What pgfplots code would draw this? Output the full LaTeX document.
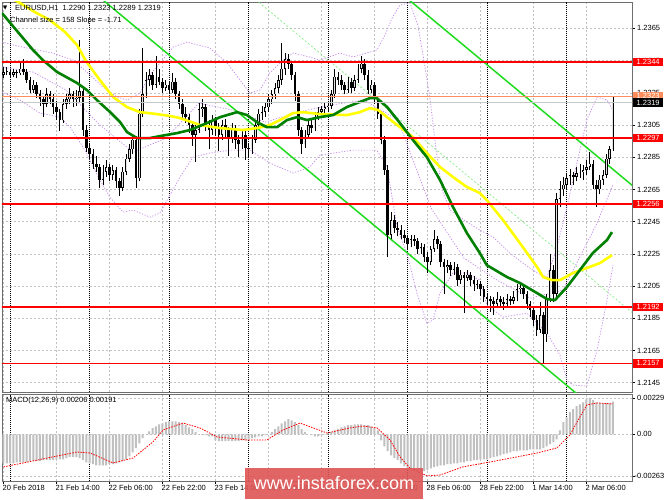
\documentclass[border=0pt]{standalone}
\usepackage{pgfplots}
\pgfplotsset{compat=1.18}
\usepackage{pgfplotstable}
\usepackage{fontspec}
\setmainfont{Liberation Sans}
\newfontfamily\symfont{DejaVu Sans}
\definecolor{mtgrid}{RGB}{192,192,192}
\definecolor{mtframe}{RGB}{110,110,110}
\definecolor{mtdkgreen}{RGB}{0,128,0}
\definecolor{mtyellow}{RGB}{255,255,0}
\definecolor{mtlime}{RGB}{30,220,30}
\definecolor{mtlime2}{RGB}{120,235,120}
\definecolor{mtviolet}{RGB}{195,135,235}
\definecolor{mtred}{RGB}{255,0,0}
\definecolor{mtorange}{RGB}{255,140,90}
\definecolor{mtbid}{RGB}{200,200,200}
\definecolor{mthist}{RGB}{192,192,192}
\definecolor{mtbull}{RGB}{225,225,225}
\definecolor{wm}{RGB}{222,85,85}

\pgfplotstableread{
i o h l c
0 1.2336 1.2341 1.2334 1.2338
1 1.2338 1.2341 1.2336 1.2338
2 1.2338 1.2340 1.2334 1.2336
3 1.2336 1.2340 1.2335 1.2338
4 1.2338 1.2339 1.2334 1.2337
5 1.2337 1.2345 1.2336 1.2340
6 1.2340 1.2346 1.2336 1.2338
7 1.2338 1.2340 1.2331 1.2333
8 1.2333 1.2335 1.2325 1.2327
9 1.2327 1.2333 1.2325 1.2330
10 1.2330 1.2332 1.2322 1.2324
11 1.2324 1.2327 1.2317 1.2321
12 1.2321 1.2323 1.2310 1.2318
13 1.2318 1.2328 1.2316 1.2324
14 1.2324 1.2326 1.2318 1.2321
15 1.2321 1.2324 1.2312 1.2316
16 1.2316 1.2320 1.2308 1.2313
17 1.2313 1.2315 1.2301 1.2308
18 1.2308 1.2321 1.2306 1.2318
19 1.2318 1.2324 1.2315 1.2321
20 1.2321 1.2328 1.2318 1.2324
21 1.2324 1.2326 1.2316 1.2321
22 1.2321 1.2327 1.2317 1.2322
23 1.2322 1.2358 1.2319 1.2326
24 1.2326 1.2328 1.2298 1.2302
25 1.2302 1.2305 1.2288 1.2291
26 1.2291 1.2294 1.2284 1.2287
27 1.2287 1.2290 1.2278 1.2281
28 1.2281 1.2286 1.2276 1.2279
29 1.2279 1.2281 1.2266 1.2271
30 1.2271 1.2280 1.2268 1.2276
31 1.2276 1.2283 1.2273 1.2279
32 1.2279 1.2281 1.2270 1.2274
33 1.2274 1.2280 1.2271 1.2277
34 1.2277 1.2279 1.2266 1.2270
35 1.2270 1.2272 1.2261 1.2266
36 1.2266 1.2279 1.2264 1.2276
37 1.2276 1.2287 1.2274 1.2284
38 1.2284 1.2293 1.2282 1.2290
39 1.2290 1.2299 1.2287 1.2296
40 1.2296 1.2298 1.2266 1.2272
41 1.2272 1.2315 1.2270 1.2312
42 1.2312 1.2353 1.2310 1.2324
43 1.2324 1.2338 1.2322 1.2333
44 1.2333 1.2340 1.2329 1.2336
45 1.2336 1.2338 1.2327 1.2330
46 1.2330 1.2348 1.2328 1.2335
47 1.2335 1.2340 1.2330 1.2332
48 1.2332 1.2334 1.2325 1.2328
49 1.2328 1.2333 1.2326 1.2330
50 1.2330 1.2332 1.2324 1.2327
51 1.2327 1.2337 1.2325 1.2332
52 1.2332 1.2334 1.2321 1.2324
53 1.2324 1.2326 1.2315 1.2318
54 1.2318 1.2321 1.2309 1.2312
55 1.2312 1.2316 1.2306 1.2310
56 1.2310 1.2312 1.2300 1.2305
57 1.2305 1.2307 1.2292 1.2299
58 1.2299 1.2306 1.2282 1.2302
59 1.2302 1.2319 1.2300 1.2315
60 1.2315 1.2321 1.2310 1.2316
61 1.2316 1.2318 1.2301 1.2305
62 1.2305 1.2308 1.2290 1.2302
63 1.2302 1.2311 1.2299 1.2308
64 1.2308 1.2310 1.2298 1.2303
65 1.2303 1.2306 1.2289 1.2299
66 1.2299 1.2308 1.2296 1.2305
67 1.2305 1.2309 1.2297 1.2302
68 1.2302 1.2304 1.2286 1.2297
69 1.2297 1.2306 1.2294 1.2303
70 1.2303 1.2305 1.2290 1.2296
71 1.2296 1.2299 1.2285 1.2293
72 1.2293 1.2302 1.2290 1.2299
73 1.2299 1.2301 1.2283 1.2291
74 1.2291 1.2294 1.2285 1.2290
75 1.2290 1.2299 1.2287 1.2296
76 1.2296 1.2308 1.2294 1.2305
77 1.2305 1.2315 1.2303 1.2312
78 1.2312 1.2317 1.2308 1.2313
79 1.2313 1.2319 1.2310 1.2316
80 1.2316 1.2324 1.2313 1.2321
81 1.2321 1.2327 1.2318 1.2324
82 1.2324 1.2331 1.2321 1.2328
83 1.2328 1.2336 1.2325 1.2333
84 1.2333 1.2356 1.2330 1.2340
85 1.2340 1.2350 1.2336 1.2346
86 1.2346 1.2349 1.2340 1.2343
87 1.2343 1.2345 1.2333 1.2336
88 1.2336 1.2338 1.2320 1.2324
89 1.2324 1.2326 1.2298 1.2302
90 1.2302 1.2304 1.2287 1.2293
91 1.2293 1.2302 1.2291 1.2299
92 1.2299 1.2308 1.2297 1.2305
93 1.2305 1.2309 1.2300 1.2303
94 1.2303 1.2313 1.2301 1.2310
95 1.2310 1.2316 1.2308 1.2313
96 1.2313 1.2317 1.2311 1.2315
97 1.2315 1.2319 1.2312 1.2316
98 1.2316 1.2320 1.2313 1.2317
99 1.2317 1.2327 1.2315 1.2324
100 1.2324 1.2340 1.2322 1.2335
101 1.2335 1.2338 1.2330 1.2333
102 1.2333 1.2336 1.2327 1.2330
103 1.2330 1.2332 1.2324 1.2327
104 1.2327 1.2335 1.2325 1.2332
105 1.2332 1.2334 1.2325 1.2328
106 1.2328 1.2336 1.2326 1.2333
107 1.2333 1.2343 1.2331 1.2340
108 1.2340 1.2348 1.2337 1.2343
109 1.2343 1.2346 1.2333 1.2336
110 1.2336 1.2339 1.2324 1.2327
111 1.2327 1.2333 1.2325 1.2330
112 1.2330 1.2332 1.2318 1.2321
113 1.2321 1.2323 1.2309 1.2312
114 1.2312 1.2314 1.2293 1.2296
115 1.2296 1.2298 1.2274 1.2277
116 1.2277 1.2280 1.2223 1.2237
117 1.2237 1.2251 1.2234 1.2246
118 1.2246 1.2249 1.2238 1.2241
119 1.2241 1.2245 1.2236 1.2240
120 1.2240 1.2243 1.2234 1.2237
121 1.2237 1.2240 1.2232 1.2235
122 1.2235 1.2237 1.2228 1.2231
123 1.2231 1.2237 1.2229 1.2234
124 1.2234 1.2237 1.2230 1.2233
125 1.2233 1.2235 1.2225 1.2228
126 1.2228 1.2232 1.2225 1.2229
127 1.2229 1.2231 1.2220 1.2223
128 1.2223 1.2226 1.2213 1.2220
129 1.2220 1.2230 1.2218 1.2228
130 1.2228 1.2240 1.2226 1.2234
131 1.2234 1.2236 1.2228 1.2231
132 1.2231 1.2233 1.2217 1.2220
133 1.2220 1.2222 1.2200 1.2217
134 1.2217 1.2221 1.2213 1.2218
135 1.2218 1.2220 1.2211 1.2215
136 1.2215 1.2220 1.2212 1.2217
137 1.2217 1.2219 1.2205 1.2209
138 1.2209 1.2215 1.2206 1.2212
139 1.2212 1.2214 1.2188 1.2210
140 1.2210 1.2215 1.2208 1.2212
141 1.2212 1.2214 1.2205 1.2209
142 1.2209 1.2211 1.2202 1.2206
143 1.2206 1.2209 1.2203 1.2206
144 1.2206 1.2208 1.2199 1.2203
145 1.2203 1.2205 1.2195 1.2198
146 1.2198 1.2201 1.2193 1.2197
147 1.2197 1.2199 1.2189 1.2196
148 1.2196 1.2198 1.2187 1.2194
149 1.2194 1.2201 1.2192 1.2197
150 1.2197 1.2199 1.2192 1.2195
151 1.2195 1.2198 1.2190 1.2194
152 1.2194 1.2200 1.2192 1.2197
153 1.2197 1.2199 1.2193 1.2196
154 1.2196 1.2202 1.2194 1.2198
155 1.2198 1.2206 1.2196 1.2203
156 1.2203 1.2207 1.2200 1.2204
157 1.2204 1.2205 1.2197 1.2200
158 1.2200 1.2202 1.2191 1.2194
159 1.2194 1.2196 1.2186 1.2190
160 1.2190 1.2192 1.2180 1.2184
161 1.2184 1.2187 1.2174 1.2178
162 1.2178 1.2195 1.2176 1.2187
163 1.2187 1.2189 1.2157 1.2175
164 1.2175 1.2200 1.2170 1.2197
165 1.2197 1.2225 1.2195 1.2215
166 1.2215 1.2218 1.2195 1.2200
167 1.2200 1.2263 1.2198 1.2259
168 1.2259 1.2270 1.2254 1.2265
169 1.2265 1.2273 1.2261 1.2268
170 1.2268 1.2275 1.2265 1.2272
171 1.2272 1.2278 1.2268 1.2274
172 1.2274 1.2276 1.2268 1.2273
173 1.2273 1.2279 1.2270 1.2275
174 1.2275 1.2281 1.2272 1.2276
175 1.2276 1.2280 1.2271 1.2277
176 1.2277 1.2283 1.2274 1.2279
177 1.2279 1.2288 1.2277 1.2281
178 1.2281 1.2283 1.2265 1.2268
179 1.2268 1.2271 1.2254 1.2265
180 1.2265 1.2274 1.2262 1.2271
181 1.2271 1.2277 1.2268 1.2274
182 1.2274 1.2287 1.2272 1.2284
183 1.2284 1.2292 1.2281 1.2290
184 1.2290 1.2323 1.2289 1.2319
}\candles

\pgfplotstableread{
i m
0 -0.00183
1 -0.00183
2 -0.00183
3 -0.00183
4 -0.00177
5 -0.00177
6 -0.00177
7 -0.00177
8 -0.00170
9 -0.00170
10 -0.00170
11 -0.00170
12 -0.00164
13 -0.00164
14 -0.00164
15 -0.00164
16 -0.00158
17 -0.00158
18 -0.00158
19 -0.00151
20 -0.00145
21 -0.00145
22 -0.00145
23 -0.00151
24 -0.00164
25 -0.00177
26 -0.00183
27 -0.00189
28 -0.00196
29 -0.00196
30 -0.00196
31 -0.00196
32 -0.00189
33 -0.00189
34 -0.00183
35 -0.00177
36 -0.00170
37 -0.00158
38 -0.00139
39 -0.00114
40 -0.00088
41 -0.00057
42 -0.00025
43 0.00000
44 0.00019
45 0.00038
46 0.00050
47 0.00063
48 0.00069
49 0.00076
50 0.00082
51 0.00082
52 0.00082
53 0.00076
54 0.00069
55 0.00057
56 0.00044
57 0.00032
58 0.00013
59 0.00000
60 -0.00006
61 -0.00006
62 -0.00013
63 -0.00013
64 -0.00038
65 -0.00044
66 -0.00044
67 -0.00044
68 -0.00044
69 -0.00044
70 -0.00044
71 -0.00044
72 -0.00038
73 -0.00038
74 -0.00032
75 -0.00025
76 -0.00019
77 -0.00013
78 -0.00013
79 -0.00006
80 0.00000
81 0.00013
82 0.00032
83 0.00050
84 0.00069
85 0.00082
86 0.00095
87 0.00088
88 0.00076
89 0.00057
90 0.00032
91 0.00013
92 0.00000
93 -0.00006
94 -0.00013
95 -0.00013
96 -0.00006
97 0.00000
98 0.00006
99 0.00013
100 0.00025
101 0.00032
102 0.00044
103 0.00050
104 0.00057
105 0.00057
106 0.00063
107 0.00063
108 0.00063
109 0.00057
110 0.00057
111 0.00050
112 0.00038
113 0.00025
114 -0.00038
115 -0.00076
116 -0.00107
117 -0.00133
118 -0.00151
119 -0.00164
120 -0.00183
121 -0.00202
122 -0.00221
123 -0.00227
124 -0.00233
125 -0.00233
126 -0.00233
127 -0.00233
128 -0.00227
129 -0.00215
130 -0.00208
131 -0.00202
132 -0.00196
133 -0.00196
134 -0.00189
135 -0.00189
136 -0.00183
137 -0.00183
138 -0.00177
139 -0.00177
140 -0.00170
141 -0.00170
142 -0.00164
143 -0.00164
144 -0.00158
145 -0.00158
146 -0.00158
147 -0.00151
148 -0.00145
149 -0.00139
150 -0.00133
151 -0.00126
152 -0.00120
153 -0.00114
154 -0.00107
155 -0.00107
156 -0.00101
157 -0.00101
158 -0.00101
159 -0.00095
160 -0.00095
161 -0.00095
162 -0.00095
163 -0.00088
164 -0.00076
165 -0.00063
166 -0.00050
167 -0.00032
168 0.00025
169 0.00076
170 0.00107
171 0.00139
172 0.00158
173 0.00177
174 0.00189
175 0.00202
176 0.00221
177 0.00229
178 0.00215
179 0.00202
180 0.00196
181 0.00196
182 0.00196
183 0.00196
184 0.00206
}\macd

\begin{document}
\begin{tikzpicture}[x=1pt,y=1pt,font=\fontsize{7.5}{9}\selectfont]
\useasboundingbox (0,0) rectangle (665,499);
\fill[white] (0,0) rectangle (665,499);

% ---------------- main price panel ----------------
\begin{axis}[
  at={(2pt,106.5pt)}, anchor=south west, scale only axis,
  width=630pt, height=390.5pt,
  xmin=-0.453, xmax=189.74, ymin=1.21389, ymax=1.23814,
  clip mode=individual,
  scaled ticks=false,
  axis line style={draw=mtframe, line width=0.8pt},
  xtick={0,16,32,48,64,80,96,112,128,144,160,176},
  xticklabels={,,,,,,,,,,,}, xtick style={draw=none},
  ytick={1.2145,1.2165,1.2185,1.2205,1.2225,1.2245,1.2265,1.2285,1.2305,1.2325,1.2345,1.2365},
  yticklabels={1.2145,1.2165,1.2185,1.2205,1.2225,1.2245,1.2265,1.2285,1.2305,1.2325,1.2345,1.2365},
  ytick pos=right, yticklabel pos=right,
  tick align=outside, major tick length=3pt,
  ytick style={draw=black, line width=0.5pt},
  tick label style={font=\fontsize{7.5}{9}\selectfont},
  yticklabel style={anchor=west, inner sep=0pt, xshift=2pt},
  grid=major,
  major grid style={mtgrid, dash pattern=on 2pt off 2pt, line width=0.5pt},
  extra x ticks={2,26,50,74,98,122,146,170},
  extra x tick labels={,,,,,,,},
  extra x tick style={grid=major, major grid style={black, dash pattern=on 1pt off 1pt, line width=0.6pt}, tick style={draw=none}},
]
% Bollinger bands (violet dotted)
\addplot[mtviolet, line width=0.7pt, dash pattern=on 1.2pt off 1.6pt] coordinates {
(-0.5,1.23565) (2.9,1.23547) (10.1,1.23516) (14.9,1.23497) (21.0,1.23453) (25.2,1.23379) (30.0,1.23286) (34.3,1.23224) (37.3,1.23205) (41.2,1.23248) (44.2,1.23360) (47.2,1.23435) (51.2,1.23534) (55.4,1.23565) (62.3,1.23528) (67.5,1.23435) (71.4,1.23329) (74.4,1.23248) (77.4,1.23267) (80.4,1.23373) (83.5,1.23435) (87.4,1.23497) (92.5,1.23472) (95.5,1.23453) (101.6,1.23497) (105.5,1.23472) (112.7,1.23516) (115.2,1.23609) (117.3,1.23714) (119.7,1.23795) (122.7,1.23807) (125.1,1.23671) (126.9,1.23453) (128.8,1.23205) (130.6,1.22894) (132.4,1.22646) (134.8,1.22522) (139.9,1.22447) (143.8,1.22398) (147.8,1.22354) (152.9,1.22255) (156.8,1.22193) (161.1,1.22131) (164.1,1.22106) (167.1,1.22292) (170.1,1.22541) (173.1,1.22814) (176.1,1.23081) (179.2,1.23224) (182.2,1.23205) (184.0,1.23143)};
\addplot[mtviolet, line width=0.7pt, dash pattern=on 1.2pt off 1.6pt] coordinates {
(-0.5,1.23410) (8.9,1.23379) (18.9,1.23267) (29.1,1.23050) (39.1,1.22882) (49.1,1.22969) (59.0,1.23186) (69.0,1.23143) (79.0,1.23068) (88.9,1.23130) (98.9,1.23174) (108.8,1.23205) (119.1,1.23081) (129.1,1.22534) (139.0,1.22224) (149.0,1.22087) (159.0,1.21975) (168.9,1.22025) (178.9,1.22429) (184.0,1.22677)};
\addplot[mtviolet, line width=0.7pt, dash pattern=on 1.2pt off 1.6pt] coordinates {
(-0.5,1.23255) (5.0,1.23205) (11.0,1.23124) (17.1,1.23099) (20.1,1.23037) (24.6,1.22894) (29.1,1.22708) (32.1,1.22603) (36.1,1.22509) (39.1,1.22522) (44.2,1.22478) (47.2,1.22503) (53.3,1.22727) (57.2,1.22851) (62.3,1.22876) (68.4,1.22894) (74.4,1.22894) (80.4,1.22814) (87.4,1.22752) (92.5,1.22789) (95.5,1.22863) (105.5,1.22894) (112.7,1.22894) (115.8,1.22789) (118.8,1.22416) (121.8,1.22255) (124.8,1.22007) (127.8,1.21820) (129.7,1.21839) (131.8,1.22007) (135.7,1.22131) (139.9,1.22131) (143.8,1.22087) (145.9,1.21932) (150.8,1.21857) (158.0,1.21882) (164.1,1.21758) (168.0,1.21621) (170.1,1.21466) (171.9,1.21435) (176.1,1.21429) (179.2,1.21653) (182.2,1.21963) (184.0,1.22180)};
% regression channel
\addplot[mtlime2, line width=0.6pt, dash pattern=on 2pt off 2pt] coordinates {(26,1.24685) (190,1.21882)};
\addplot[mtlime, line width=1.5pt] coordinates {(26,1.23895) (190,1.21092)};
\addplot[mtlime, line width=1.5pt] coordinates {(26,1.25475) (190,1.22672)};
% candles: wicks
\addplot[draw=none, mark=none, error bars/.cd, y dir=plus, y explicit, error mark=none,
  error bar style={draw=black, line width=0.7pt, solid}]
  table[x=i, y=l, y error plus expr={\thisrow{h}-\thisrow{l}}] {\candles};
% bodies (black)
\addplot[draw=none, mark=none, error bars/.cd, y dir=plus, y explicit, error mark=none,
  error bar style={draw=black, line width=2.6pt, solid}]
  table[x=i, y expr={min(\thisrow{o},\thisrow{c})}, y error plus expr={max(abs(\thisrow{c}-\thisrow{o}),0.00003)}] {\candles};
% bullish bodies (light inside)
\addplot[draw=none, mark=none, error bars/.cd, y dir=plus, y explicit, error mark=none,
  error bar style={draw=mtbull, line width=1.0pt, solid}]
  table[x=i, y expr={\thisrow{o}+0.00004}, y error plus expr={(\thisrow{c}>\thisrow{o})*max(\thisrow{c}-\thisrow{o}-0.00008,0)}] {\candles};
% moving averages
\addplot[mtyellow, line width=2.6pt, line join=round] coordinates {
(-0.45,1.23880) (3.5,1.23826) (9.5,1.23751) (14.0,1.23702) (18.6,1.23627) (22.2,1.23547) (24.9,1.23447) (29.1,1.23329) (33.1,1.23224) (37.3,1.23161) (41.2,1.23130) (46.3,1.23118) (50.3,1.23106) (53.3,1.23093) (59.3,1.23050) (65.4,1.23031) (72.3,1.23019) (76.5,1.23031) (80.4,1.23050) (83.5,1.23081) (87.4,1.23124) (90.4,1.23130) (95.5,1.23118) (103.7,1.23112) (107.6,1.23130) (110.6,1.23155) (113.1,1.23143) (115.8,1.23099) (119.7,1.23037) (123.6,1.22975) (127.8,1.22876) (131.8,1.22789) (135.7,1.22727) (139.9,1.22665) (143.8,1.22628) (145.9,1.22584) (150.8,1.22460) (155.9,1.22317) (161.1,1.22168) (162.9,1.22106) (165.6,1.22087) (168.0,1.22087) (171.9,1.22131) (176.1,1.22162) (180.1,1.22193) (183.7,1.22242)};
\addplot[mtdkgreen, line width=2.6pt, line join=round] coordinates {
(-0.45,1.23745) (8.9,1.23516) (11.9,1.23453) (16.2,1.23379) (22.2,1.23311) (25.2,1.23267) (28.2,1.23205) (32.2,1.23130) (35.2,1.23068) (37.3,1.23006) (40.3,1.22969) (44.2,1.22969) (47.2,1.22981) (52.4,1.23000) (56.3,1.23019) (61.4,1.23062) (65.4,1.23099) (70.5,1.23130) (73.5,1.23112) (76.5,1.23068) (79.5,1.23037) (82.6,1.23037) (85.6,1.23081) (88.6,1.23099) (91.6,1.23081) (95.5,1.23099) (99.5,1.23112) (103.7,1.23162) (107.6,1.23193) (110.6,1.23217) (112.7,1.23217) (115.8,1.23162) (119.7,1.23062) (123.6,1.22957) (127.8,1.22851) (131.8,1.22708) (135.7,1.22541) (139.9,1.22379) (143.8,1.22255) (145.9,1.22180) (152.0,1.22106) (155.9,1.22069) (161.1,1.22006) (164.1,1.21969) (166.5,1.21963) (170.1,1.22044) (174.0,1.22149) (177.9,1.22255) (182.2,1.22336) (183.7,1.22385)};
% horizontal levels
\addplot[mtbid, line width=0.9pt] coordinates {(-1,1.2319) (191,1.2319)};
\addplot[mtorange, line width=0.9pt] coordinates {(-1,1.2323) (191,1.2323)};
\addplot[mtred, line width=1.5pt] coordinates {(-1,1.2344) (191,1.2344)};
\addplot[mtred, line width=1.5pt] coordinates {(-1,1.2297) (191,1.2297)};
\addplot[mtred, line width=1.5pt] coordinates {(-1,1.2256) (191,1.2256)};
\addplot[mtred, line width=1.5pt] coordinates {(-1,1.2192) (191,1.2192)};
\addplot[mtred, line width=1.5pt] coordinates {(-1,1.2157) (191,1.2157)};
\coordinate (L1) at (axis cs:189.74,1.2344);
\coordinate (L2) at (axis cs:189.74,1.2297);
\coordinate (L3) at (axis cs:189.74,1.2256);
\coordinate (L4) at (axis cs:189.74,1.2192);
\coordinate (L5) at (axis cs:189.74,1.2157);
\coordinate (LO) at (axis cs:189.74,1.2323);
\coordinate (LB) at (axis cs:189.74,1.2319);
\end{axis}

% ---------------- MACD panel ----------------
\begin{axis}[
  at={(2pt,18pt)}, anchor=south west, scale only axis,
  width=630pt, height=86.5pt,
  xmin=-0.453, xmax=189.74, ymin=-0.00295, ymax=0.00251,
  clip mode=individual,
  scaled ticks=false,
  axis line style={draw=mtframe, line width=0.8pt},
  xtick={0,16,32,48,64,80,96,112,128,144,160,176},
  xticklabels={20 Feb 2018,21 Feb 14:00,22 Feb 06:00,22 Feb 22:00,23 Feb 14:00,26 Feb 06:00,26 Feb 22:00,27 Feb 14:00,28 Feb 06:00,28 Feb 22:00,1 Mar 14:00,2 Mar 06:00},
  xtick pos=left, ytick pos=right, yticklabel pos=right,
  tick align=outside, major tick length=3pt,
  tick style={draw=black, line width=0.5pt},
  tick label style={font=\fontsize{7.5}{9}\selectfont},
  xticklabel style={anchor=north west, inner sep=0pt, xshift=-1pt, yshift=-1pt},
  ytick={-0.00263,0,0.00229},
  yticklabels={\llap{-}0.00263,0.00,0.00229},
  yticklabel style={anchor=west, inner sep=0pt, xshift=2pt},
  grid=major,
  major grid style={mtgrid, dash pattern=on 2pt off 2pt, line width=0.5pt},
  extra x ticks={2,26,50,74,98,122,146,170},
  extra x tick labels={,,,,,,,},
  extra x tick style={grid=major, major grid style={black, dash pattern=on 1pt off 1pt, line width=0.6pt}, tick style={draw=none}},
]
\addplot[ybar, bar width=2pt, fill=mthist, draw=none] table[x=i, y=m] {\macd};
\addplot[mtred, line width=0.8pt, dash pattern=on 1.5pt off 1.2pt] coordinates {
(0,-0.00206) (22.2,-0.00112) (26.1,-0.00118) (33.1,-0.00181) (39.1,-0.00150) (45.1,-0.00049) (48.2,0.00027) (54.2,0.00071) (59.3,0.00040) (64.5,-0.00017) (73.5,-0.00036) (79.5,-0.00036) (84.4,0.00027) (89.5,0.00071) (97.7,0.00008) (104.6,0.00040) (108.5,0.00052) (112.8,0.00040) (116.7,-0.00036) (119.7,-0.00143) (122.7,-0.00213) (127.9,-0.00263) (131.8,-0.00257) (138.7,-0.00206) (146.9,-0.00175) (155.0,-0.00143) (161.1,-0.00118) (167.1,-0.00086) (171.0,-0.00004) (174.0,0.00109) (176.1,0.00185) (179.2,0.00198) (184.0,0.00191)};
\end{axis}

% ---------------- labels on the price scale ----------------
\tikzset{lbl/.style={anchor=west, xshift=1pt, text=white, minimum width=30pt, minimum height=8.5pt, inner sep=0.5pt, font=\fontsize{7.5}{9}\selectfont}}
\node[lbl, fill=mtred] at (L1) {1.2344};
\node[lbl, fill=mtred] at (L2) {1.2297};
\node[lbl, fill=mtred] at (L3) {1.2256};
\node[lbl, fill=mtred] at (L4) {1.2192};
\node[lbl, fill=mtred] at (L5) {1.2157};
\node[lbl, fill=mtorange] at (LO) {1.2323};
\node[lbl, fill=black] at (LB) {1.2319};

% ---------------- header texts ----------------
\node[anchor=west, inner sep=0pt] at (3,490.5) {\symfont\fontsize{5.5}{6}\selectfont ▼};
\node[anchor=west, inner sep=0pt] at (15,490.5) {EURUSD,H1\ \ 1.2290 1.2323 1.2289 1.2319};
\node[anchor=west, inner sep=0pt] at (10,478.5) {Channel size = 158 Slope = -1.71};
\node[anchor=west, inner sep=0pt] at (6,98) {MACD(12,26,9) 0.00206 0.00191};

% ---------------- watermark ----------------
\fill[wm, fill opacity=0.9] (245,0) rectangle (423,31);
\node[text=white, font=\fontsize{18}{20}\selectfont, inner sep=0pt] at (334,15.5) {www.instaforex.com};
\end{tikzpicture}
\end{document}
